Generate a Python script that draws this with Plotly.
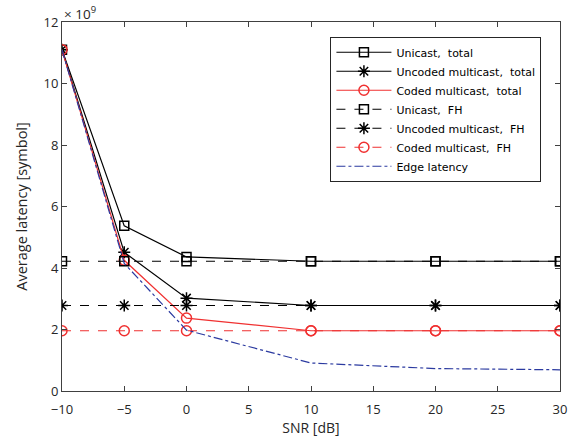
import plotly.graph_objects as go

snr = [-10, -5, 0, 10, 20, 30]
unicast_total = [11.1, 5.37, 4.36, 4.22, 4.22, 4.22]
uncoded_total = [11.1, 4.51, 3.02, 2.78, 2.78, 2.78]
coded_total = [11.1, 4.25, 2.37, 1.96, 1.96, 1.96]
unicast_fh = [4.22, 4.22, 4.22, 4.22, 4.22, 4.22]
uncoded_fh = [2.78, 2.78, 2.78, 2.78, 2.78, 2.78]
coded_fh = [1.96, 1.96, 1.96, 1.96, 1.96, 1.96]
edge = [11.1, 4.15, 1.98, 0.91, 0.73, 0.69]
scale = 1e9

names = ["Unicast,\u00a0 total", "Uncoded multicast,\u00a0 total", "Coded multicast,\u00a0 total",
         "Unicast,\u00a0 FH", "Uncoded multicast,\u00a0 FH", "Coded multicast,\u00a0 FH", "Edge latency"]

BLACK = "#000000"
RED = "#f03030"
BLUE = "#2b3aa0"

series = [
    (unicast_total, names[0], BLACK, "solid", "square-open", 9),
    (uncoded_total, names[1], BLACK, "solid", "asterisk-open", 10),
    (coded_total, names[2], RED, "solid", "circle-open", 10),
    (unicast_fh, names[3], BLACK, "dash", "square-open", 9),
    (uncoded_fh, names[4], BLACK, "dash", "asterisk-open", 10),
    (coded_fh, names[5], RED, "dash", "circle-open", 10),
]

fig = go.Figure()
for ys, nm, col, dash, sym, sz in series:
    fig.add_trace(go.Scatter(
        x=snr, y=[v * scale for v in ys], name=nm, mode="lines+markers",
        line=dict(color=col, width=1.2, dash=dash),
        marker=dict(symbol=sym, size=sz, color=col, line=dict(color=col, width=1.5)),
    ))
fig.add_trace(go.Scatter(
    x=snr, y=[v * scale for v in edge], name=names[6], mode="lines",
    line=dict(color=BLUE, width=1.2, dash="dashdot"),
))

axis_common = dict(
    showline=True, linecolor="#404040", linewidth=1, mirror="ticks",
    ticks="inside", ticklen=5, tickcolor="#404040", showgrid=False, zeroline=False,
    tickfont=dict(family="Open Sans", size=13, color="#262626"), automargin=False,
)

fig.update_layout(
    width=579, height=438,
    margin=dict(l=62, r=19, t=22, b=47),
    paper_bgcolor="white", plot_bgcolor="white",
    font=dict(family="Open Sans", size=13, color="#262626"),
    xaxis=dict(range=[-10, 30], tickmode="array", tickvals=list(range(-10, 31, 5)),
               ticklabelstandoff=6,
               title=dict(text="SNR [dB]", font=dict(size=14), standoff=6), **axis_common),
    yaxis=dict(range=[0, 12e9], tickmode="array", tickvals=[i * 2e9 for i in range(7)],
               ticktext=[str(i * 2) for i in range(7)],
               title=dict(text="Average latency [symbol]", font=dict(size=14.5), standoff=12), **axis_common),
    legend=dict(x=0.539, y=0.96, xanchor="left", yanchor="top",
                bgcolor="white", bordercolor="#262626", borderwidth=1,
                font=dict(family="DejaVu Sans", size=11, color="#000000"),
                tracegroupgap=0, itemwidth=55),
    showlegend=True,
)
fig.add_annotation(x=0, y=1, xref="paper", yref="paper", xanchor="left", yanchor="bottom",
                   text="\u00d7 10<sup>9</sup>", showarrow=False,
                   font=dict(family="Open Sans", size=13.5, color="#262626"), yshift=-3)

fig.write_html("out.html")
